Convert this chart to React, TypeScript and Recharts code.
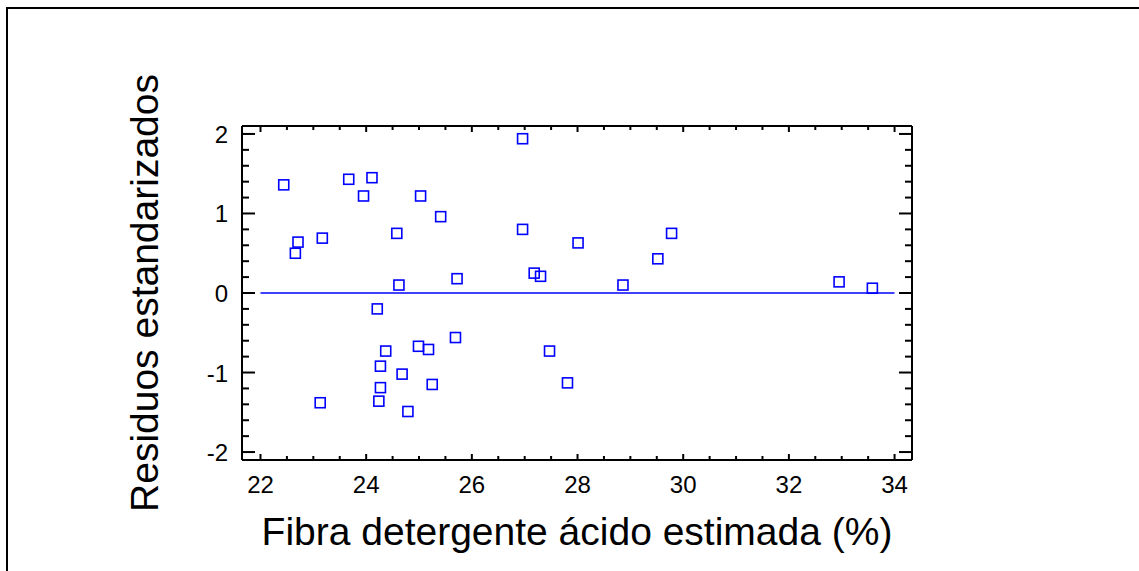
import React from 'react';
import { ScatterChart, Scatter, XAxis, YAxis, ReferenceLine, Label } from 'recharts';

// Estimated fibre (x) and standardized residuals (y)
const xValues = [
  22.44, 22.71, 22.66, 23.17, 23.67, 24.11, 23.95, 25.03, 25.41, 24.58,
  24.62, 26.96, 26.96, 28.01, 27.18, 27.30, 25.72, 24.21, 29.78, 29.52,
  28.86, 32.95, 33.58, 25.69, 24.99, 25.18, 24.37, 27.47, 24.27, 24.68,
  24.27, 25.25, 27.81, 23.13, 24.24, 24.79,
];
const yValues = [
  1.36, 0.64, 0.50, 0.69, 1.43, 1.45, 1.22, 1.22, 0.96, 0.75,
  0.10, 1.94, 0.80, 0.63, 0.25, 0.21, 0.18, -0.20, 0.75, 0.43,
  0.10, 0.14, 0.06, -0.56, -0.67, -0.71, -0.73, -0.73, -0.92, -1.02,
  -1.19, -1.15, -1.13, -1.38, -1.36, -1.49,
];

const xMajorTicks = [22, 24, 26, 28, 30, 32, 34];
const xMinorTicks = [22.5, 23, 23.5, 24.5, 25, 25.5, 26.5, 27, 27.5, 28.5, 29, 29.5, 30.5, 31, 31.5, 32.5, 33, 33.5];
const yMajorTicks = [-2, -1, 0, 1, 2];
const yMinorTicks = [-1.8, -1.6, -1.4, -1.2, -0.8, -0.6, -0.4, -0.2, 0.2, 0.4, 0.6, 0.8, 1.2, 1.4, 1.6, 1.8];
const xDomain = [21.65, 34.33];
const yDomain = [-2.1, 2.1];
const zeroLineStart = 22;
const zeroLineEnd = 34;
const zeroLineValue = 0;

const xTitle = 'Fibra detergente ácido estimada (%)';
const yTitle = 'Residuos estandarizados';

const points = xValues.map((x, i) => ({ x, y: yValues[i] }));
const xAllTicks = [...xMajorTicks, ...xMinorTicks].sort((a, b) => a - b);
const yAllTicks = [...yMajorTicks, ...yMinorTicks].sort((a, b) => a - b);

const FONT = '"Liberation Sans", Arial, Helvetica, sans-serif';
const BLUE = '#0000ff';

const BottomTick = (props: any) => {
  const { x, y, payload } = props;
  const major = xMajorTicks.includes(payload.value);
  return (
    <g>
      <line x1={x} x2={x} y1={y} y2={y - (major ? 6 : 4)} stroke="#000" strokeWidth={2} />
      {major && (
        <text x={x} y={y + 33} textAnchor="middle" fontSize={24} fontFamily={FONT} fill="#000">
          {String(payload.value)}
        </text>
      )}
    </g>
  );
};

const TopTick = (props: any) => {
  const { x, y, payload } = props;
  const major = xMajorTicks.includes(payload.value);
  return <line x1={x} x2={x} y1={y} y2={y + (major ? 6 : 4)} stroke="#000" strokeWidth={2} />;
};

const LeftTick = (props: any) => {
  const { x, y, payload } = props;
  const major = yMajorTicks.includes(payload.value);
  return (
    <g>
      <line x1={x} x2={x + (major ? 13 : 7)} y1={y} y2={y} stroke="#000" strokeWidth={2} />
      {major && (
        <text x={x - 14} y={y + 9} textAnchor="end" fontSize={24} fontFamily={FONT} fill="#000">
          {String(payload.value)}
        </text>
      )}
    </g>
  );
};

const RightTick = (props: any) => {
  const { x, y, payload } = props;
  const major = yMajorTicks.includes(payload.value);
  return <line x1={x} x2={x - (major ? 13 : 7)} y1={y} y2={y} stroke="#000" strokeWidth={2} />;
};

const SquareShape = (props: any) => {
  const { cx, cy } = props;
  if (cx == null || cy == null) return null;
  return <rect x={cx - 5} y={cy - 5} width={10} height={10} fill="none" stroke={BLUE} strokeWidth={1.6} />;
};

const XTitle = (props: any) => {
  const vb = props.viewBox || {};
  const cx = (vb.x ?? 0) + (vb.width ?? 0) / 2;
  const y = (vb.y ?? 0) + 85;
  return (
    <text x={cx} y={y} textAnchor="middle" fontSize={39} fontFamily={FONT} fill="#000">
      {xTitle}
    </text>
  );
};

const YTitle = (props: any) => {
  const vb = props.viewBox || {};
  const x = (vb.x ?? 0) + (vb.width ?? 0) - 84;
  const cy = (vb.y ?? 0) + (vb.height ?? 0) / 2;
  return (
    <text
      x={x}
      y={cy}
      transform={`rotate(-90 ${x} ${cy})`}
      textAnchor="middle"
      fontSize={39}
      fontFamily={FONT}
      fill="#000"
    >
      {yTitle}
    </text>
  );
};

export default function App() {
  return (
    <div style={{ position: 'absolute', left: 0, top: 0, width: 1139, height: 571, overflow: 'hidden', background: '#fff' }}>
      <div
        style={{
          position: 'absolute',
          left: 6,
          top: 7,
          width: 1300,
          height: 700,
          border: '2px solid #000',
          boxSizing: 'border-box',
        }}
      />
      <div style={{ position: 'absolute', left: 0, top: 0 }}>
        <ScatterChart width={1139} height={571} margin={{ top: 125, right: 226, bottom: 110, left: 241 }}>
          <XAxis
            xAxisId="b"
            dataKey="x"
            type="number"
            orientation="bottom"
            domain={xDomain}
            allowDataOverflow
            ticks={xAllTicks}
            interval={0}
            height={1}
            tickSize={0}
            tickMargin={0}
            tickLine={false}
            axisLine={{ stroke: '#000', strokeWidth: 2 }}
            tick={(p: any) => <BottomTick {...p} />}
          >
            <Label content={(p: any) => <XTitle {...p} />} />
          </XAxis>
          <XAxis
            xAxisId="t"
            dataKey="x"
            type="number"
            orientation="top"
            domain={xDomain}
            allowDataOverflow
            ticks={xAllTicks}
            interval={0}
            height={1}
            tickSize={0}
            tickMargin={0}
            tickLine={false}
            axisLine={{ stroke: '#000', strokeWidth: 2 }}
            tick={(p: any) => <TopTick {...p} />}
          />
          <YAxis
            yAxisId="l"
            dataKey="y"
            type="number"
            orientation="left"
            domain={yDomain}
            allowDataOverflow
            ticks={yAllTicks}
            interval={0}
            width={1}
            tickSize={0}
            tickMargin={0}
            tickLine={false}
            axisLine={{ stroke: '#000', strokeWidth: 2 }}
            tick={(p: any) => <LeftTick {...p} />}
          >
            <Label content={(p: any) => <YTitle {...p} />} />
          </YAxis>
          <YAxis
            yAxisId="r"
            dataKey="y"
            type="number"
            orientation="right"
            domain={yDomain}
            allowDataOverflow
            ticks={yAllTicks}
            interval={0}
            width={1}
            tickSize={0}
            tickMargin={0}
            tickLine={false}
            axisLine={{ stroke: '#000', strokeWidth: 2 }}
            tick={(p: any) => <RightTick {...p} />}
          />
          <ReferenceLine
            xAxisId="b"
            yAxisId="l"
            segment={[
              { x: zeroLineStart, y: zeroLineValue },
              { x: zeroLineEnd, y: zeroLineValue },
            ]}
            stroke={BLUE}
            strokeWidth={1.5}
            ifOverflow="visible"
          />
          <Scatter
            xAxisId="b"
            yAxisId="l"
            data={points}
            isAnimationActive={false}
            shape={(p: any) => <SquareShape {...p} />}
          />
          <Scatter
            xAxisId="t"
            yAxisId="r"
            data={points}
            isAnimationActive={false}
            shape={() => <g />}
          />
        </ScatterChart>
      </div>
    </div>
  );
}
